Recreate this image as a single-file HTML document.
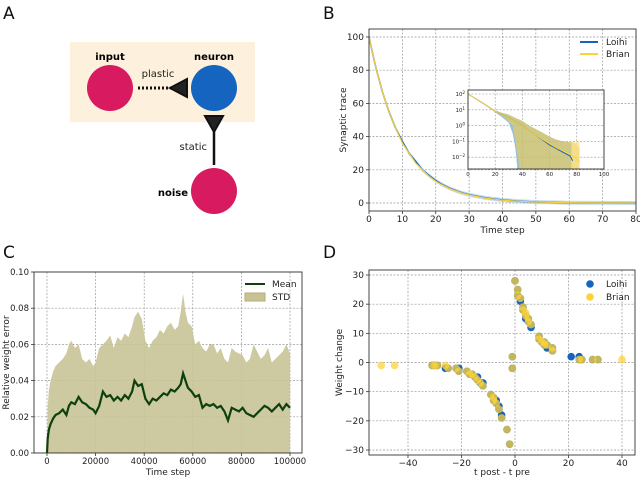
<!DOCTYPE html>
<html><head><meta charset="utf-8"><style>
body{margin:0;background:#fff}
svg{display:block;font-family:"DejaVu Sans","Liberation Sans",sans-serif}
</style></head><body>
<svg id="fig" width="640" height="478" viewBox="0 0 640 478">
<g>
<text x="3" y="19" font-size="17" fill="#111">A</text>
<rect x="70" y="42" width="185" height="80" fill="#fdf0dc"/>
<circle cx="110" cy="88" r="23" fill="#d81b60"/>
<circle cx="214" cy="88" r="23" fill="#1565c0"/>
<circle cx="214" cy="191" r="23" fill="#d81b60"/>
<text x="110" y="60" font-size="10" font-weight="bold" text-anchor="middle">input</text>
<text x="214" y="60" font-size="10" font-weight="bold" text-anchor="middle">neuron</text>
<text x="188" y="196" font-size="10" font-weight="bold" text-anchor="end">noise</text>
<text x="158" y="77" font-size="10" text-anchor="middle" fill="#222">plastic</text>
<text x="207" y="150" font-size="10" text-anchor="end" fill="#222">static</text>
<line x1="138" y1="88" x2="172" y2="88" stroke="#111" stroke-width="3" stroke-dasharray="2,2"/>
<polygon points="170,88 187,79 187,97" fill="#222" stroke="#111" stroke-width="2"/>
<line x1="214" y1="128" x2="214" y2="165" stroke="#111" stroke-width="2.5"/>
<polygon points="205,116 223,116 214,132" fill="#222" stroke="#111" stroke-width="2"/>
</g>
<text x="323" y="19" font-size="17" fill="#111">B</text>
<text x="3" y="258" font-size="17" fill="#111">C</text>
<text x="323" y="258" font-size="17" fill="#111">D</text>
<g id="gB"></g>
<g id="gC"></g>
<g id="gD"></g>
</svg>
<script>
// ---- Panel B data ----
const bTime=[0,2,4,6,8,10,12,14,16,18,20,22,24,26,28,30,35,40,45,50,60,70,80];
const bLoihi=[100,82,67,55,45,37,30,25,20,16.5,13.5,11,9,7.4,6,5,3,1.8,1,0.6,0.2,0.05,0];
const bBrian=[100,82,67,55,45,36,30,24,20,16,13,10.8,8.8,7.2,5.9,4.8,2.9,1.7,1,0.6,0.2,0.06,0];
const bTicksX=[0,10,20,30,40,50,60,70,80];
const bTicksY=[0,20,40,60,80,100];
// inset (log)
const iTime=[0,10,20,25,30,35,40,45,50,55,60,65,70,75,77,80,82];
const iLoihi=[100,30,8,5,3,1.8,1,0.5,0.25,0.12,0.06,0.035,0.02,0.012,0.006,null,null];
const iBrian=[100,30,8,5,3,1.8,1,0.5,0.25,0.13,0.07,0.04,0.025,0.015,0.012,0.008,0.005];
const iUpper=[100,30,9,6.5,5,3,2,1,0.6,0.35,0.2,0.13,0.1,0.09,0.09,0.06,0.04];
const iLowerT=[0,10,20,25,30,33,35,36];
const iLower=[100,30,7,3.5,1.5,0.3,0.03,0.004];
const iTicksX=[0,20,40,60,80,100];
const iTicksY=[2,1,0,-1,-2];
// ---- Panel C data ----
const cTime=[0,300,800,1500,2500,3500,5000,6500,8000,9000,10000,11500,13000,14500,16000,17500,19000,20000,21500,23000,24500,26000,27500,29000,30500,32000,33500,35000,36000,37500,39000,40500,42000,43500,45000,46500,48000,49500,51000,52500,54000,55000,56000,57000,58000,59500,61000,62500,64000,65500,67000,68500,70000,71500,73000,74500,76000,77500,79000,80500,82000,83500,85000,86500,88000,89500,91000,92500,94000,95500,97000,98500,100000];
const cMean=[0,0.008,0.013,0.016,0.019,0.021,0.022,0.024,0.021,0.026,0.028,0.027,0.031,0.028,0.027,0.025,0.024,0.022,0.026,0.034,0.031,0.032,0.029,0.031,0.029,0.032,0.03,0.034,0.04,0.037,0.038,0.03,0.027,0.03,0.029,0.031,0.033,0.032,0.035,0.034,0.036,0.038,0.044,0.04,0.036,0.034,0.031,0.032,0.025,0.027,0.026,0.027,0.025,0.026,0.023,0.018,0.025,0.024,0.023,0.025,0.022,0.021,0.02,0.022,0.024,0.026,0.025,0.023,0.025,0.027,0.024,0.027,0.025];
const cUpper=[0,0.025,0.035,0.04,0.045,0.048,0.05,0.052,0.055,0.06,0.062,0.058,0.06,0.052,0.05,0.052,0.048,0.05,0.058,0.06,0.062,0.065,0.058,0.064,0.062,0.066,0.064,0.07,0.075,0.078,0.074,0.062,0.058,0.062,0.064,0.068,0.066,0.07,0.072,0.068,0.07,0.078,0.088,0.078,0.072,0.07,0.06,0.062,0.058,0.056,0.06,0.06,0.055,0.058,0.052,0.05,0.058,0.056,0.055,0.054,0.05,0.052,0.06,0.056,0.052,0.054,0.058,0.05,0.052,0.054,0.056,0.06,0.055];
const cTicksX=[0,20000,40000,60000,80000,100000];
const cTicksY=[0,0.02,0.04,0.06,0.08,0.1];
// ---- Panel D data ----
const dLoihiX=[0,1,1,2,2,3,3,4,4,5,5,6,6,9,9,10,11,11,12,12,14,14,21,24,24,25,29,31,-1,-1,-2,-3,-5,-5,-6,-6,-7,-7,-8,-8,-9,-12,-12,-13,-14,-14,-15,-16,-17,-18,-21,-21,-22,-25,-26,-29,-30,-31];
const dLoihiY=[28,25,23,22,21,19,18,16,15,14,15,13,12,9,8,7,7,6,5,6,4,5,2,2,1,1,1,1,2,-2,-28,-23,-19,-18,-16,-15,-14,-13,-13,-12,-11,-8,-7,-7,-6,-5,-5,-4,-4,-3,-3,-2,-2,-2,-2,-1,-1,-1];
const dBrianX=[0,1,1,2,3,3,4,4,5,5,6,9,9,10,11,11,12,14,14,24,25,29,31,40,-1,-1,-2,-3,-5,-6,-7,-8,-8,-9,-12,-13,-14,-15,-16,-17,-18,-21,-22,-25,-26,-29,-30,-31,-45,-50];
const dBrianY=[28,25,23,22,19,18,17,16,15,14,13,9,8,7,7,6,6,4,5,1,1,1,1,1,2,-2,-28,-23,-19,-16,-14,-13,-12,-11,-8,-7,-6,-5,-4,-4,-3,-3,-2,-2,-1,-1,-1,-1,-1,-1];
const dTicksX=[-40,-20,0,20,40];
const dTicksY=[-30,-20,-10,0,10,20,30];

const NS="http://www.w3.org/2000/svg";
function mk(parent,tag,attrs,text){const e=document.createElementNS(NS,tag);for(const k in attrs)e.setAttribute(k,attrs[k]);if(text!==undefined)e.textContent=text;parent.appendChild(e);return e;}
function lin(d0,d1,r0,r1){return v=>r0+(v-d0)*(r1-r0)/(d1-d0);}
function grid(g,L,R,T,B,xs,ys,sx,sy,fmtX,fmtY,fs){
  mk(g,'rect',{x:L,y:T,width:R-L,height:B-T,fill:'#fff'});
  xs.forEach(v=>{const x=sx(v);
    const l=mk(g,'line',{x1:x,x2:x,y1:T,y2:B,stroke:'#999','stroke-width':0.7,'stroke-dasharray':'2,1.5'});
    
    mk(g,'line',{x1:x,x2:x,y1:B,y2:B+3,stroke:'#333','stroke-width':0.8});
    const t=mk(g,'text',{x:x,y:B+11,'font-size':fs,'text-anchor':'middle',fill:'#222'},fmtX(v));
    });
  ys.forEach(v=>{const y=sy(v);
    const l=mk(g,'line',{x1:L,x2:R,y1:y,y2:y,stroke:'#999','stroke-width':0.7,'stroke-dasharray':'2,1.5'});
    
    mk(g,'line',{x1:L-3,x2:L,y1:y,y2:y,stroke:'#333','stroke-width':0.8});
    const t=mk(g,'text',{x:L-5,y:y+3,'font-size':fs,'text-anchor':'end',fill:'#222'},fmtY(v));
    });
}
function frame(g,L,R,T,B){const f=mk(g,'rect',{x:L,y:T,width:R-L,height:B-T,fill:'none',stroke:'#333','stroke-width':0.9});
  }
function pathXY(xs,ys,sx,sy){let d='';let started=false;xs.forEach((x,i)=>{if(ys[i]===null)return;d+=(started?'L':'M')+sx(x).toFixed(1)+','+sy(ys[i]).toFixed(1);started=true;});return d;}
function lab(g,x,y,txt,name,rot){const t=mk(g,'text',{x:x,y:y,'font-size':9,'text-anchor':'middle',fill:'#222'},txt);
  if(rot)t.setAttribute('transform','rotate(-90 '+x+' '+y+')');
  }

// ---- Panel B ----
(function(){
 const g=document.getElementById('gB');const L=369,R=636,T=29,B=211;
 const sx=lin(0,80,L,R),sy=lin(0,100,203,37);
 grid(g,L,R,T,B,bTicksX,bTicksY,sx,sy,v=>v,v=>v,9);
 const fl=mk(g,'path',{d:pathXY(bTime,bLoihi.map(v=>v+1.2),sx,sy)+'L'+sx(80)+','+sy(-0.5)+pathXY(bTime.slice().reverse(),bLoihi.slice().reverse().map(v=>v-1.2),sx,sy).replace('M','L')+'Z',fill:'#9ec7e8',opacity:0.6});
 
 const l1=mk(g,'path',{d:pathXY(bTime,bLoihi,sx,sy),fill:'none',stroke:'#1565c0','stroke-width':1.5});
 
 const l2=mk(g,'path',{d:pathXY(bTime,bBrian,sx,sy),fill:'none',stroke:'#fdd13a','stroke-width':1.2});
 
 frame(g,L,R,T,B);
 lab(g,(L+R)/2,233,'Time step','x-axis-title');
 lab(g,346,(T+B)/2,'Synaptic trace','y-axis-title',true);
 const lg=mk(g,'g',{});
 mk(lg,'line',{x1:580,x2:598,y1:42,y2:42,stroke:'#1565c0','stroke-width':2});
 mk(lg,'text',{x:606,y:45,'font-size':9,fill:'#222'},'Loihi');
 mk(lg,'line',{x1:580,x2:598,y1:54,y2:54,stroke:'#fdd13a','stroke-width':2});
 mk(lg,'text',{x:606,y:57,'font-size':9,fill:'#222'},'Brian');
 // inset
 const iL=468,iR=604,iT=90,iB=169;
 const ig=mk(g,'g',{});
 const isx=lin(0,100,iL,iR),isy=v=>94+(2-Math.log10(v))*15.8;
 mk(ig,'rect',{x:iL,y:iT,width:iR-iL,height:iB-iT,fill:'#fff'});
 iTicksX.forEach(v=>{const x=isx(v);mk(ig,'line',{x1:x,x2:x,y1:iT,y2:iB,stroke:'#999','stroke-width':0.6,'stroke-dasharray':'2,1.5'});
   const t=mk(ig,'text',{x:x,y:iB+7,'font-size':5.5,'text-anchor':'middle',fill:'#222'},v);});
 iTicksY.forEach(e=>{const y=isy(Math.pow(10,e));mk(ig,'line',{x1:iL,x2:iR,y1:y,y2:y,stroke:'#999','stroke-width':0.6,'stroke-dasharray':'2,1.5'});
   const t=mk(ig,'text',{x:iL-3,y:y+2,'font-size':5.5,'text-anchor':'end',fill:'#222'});
   t.textContent='10';mk(t,'tspan',{dy:-2,'font-size':4},String(e).replace('-','−'));});
 const clampY=v=>Math.min(iB,isy(v));
 let d='M'+isx(iTime[0])+','+clampY(iUpper[0]);iTime.forEach((t,i)=>{d+='L'+isx(t)+','+clampY(iUpper[i]);});d+='L'+isx(82)+','+iB+'L'+isx(36)+','+iB;
 for(let i=iLowerT.length-1;i>=0;i--){d+='L'+isx(iLowerT[i])+','+clampY(iLower[i]);}d+='Z';
 const bb=mk(ig,'path',{d:d,fill:'#c8c070',opacity:0.85});
 const hi=mk(ig,'path',{d:'M'+isx(76)+','+clampY(0.09)+'L'+isx(82)+','+clampY(0.09)+'L'+isx(82)+','+iB+'L'+isx(76)+','+iB+'Z',fill:'#fde38a',opacity:0.8});
 
 let d2='M'+isx(iLowerT[0])+','+clampY(iLower[0]);iLowerT.forEach((t,i)=>{d2+='L'+isx(t)+','+clampY(iLower[i]);});d2+='L'+isx(37)+','+iB+'L'+isx(38)+','+iB+'L'+isx(33)+','+isy(1)+'L'+isx(25)+','+isy(4.5)+'Z';
 const lb=mk(ig,'path',{d:d2,fill:'#8fc0e8',opacity:0.9});
 const il1=mk(ig,'path',{d:pathXY(iTime,iLoihi,isx,isy),fill:'none',stroke:'#1565c0','stroke-width':1});
 const il2=mk(ig,'path',{d:pathXY(iTime,iBrian,isx,isy),fill:'none',stroke:'#fdd13a','stroke-width':0.9});
 frame(ig,iL,iR,iT,iB);
})();

// ---- Panel C ----
(function(){
 const g=document.getElementById('gC');const L=34,R=302,T=272,B=453;
 const sx=lin(0,100000,47,290),sy=lin(0,0.1,453,272);
 grid(g,L,R,T,B,cTicksX,cTicksY,sx,sy,v=>v,v=>v.toFixed(2),8.5);
 const band=mk(g,'path',{d:pathXY(cTime,cUpper,sx,sy)+'L'+sx(100000)+','+sy(0)+'L'+sx(0)+','+sy(0)+'Z',fill:'#c8c396',opacity:0.9});
 
 const ml=mk(g,'path',{d:pathXY(cTime,cMean,sx,sy),fill:'none',stroke:'#0d400d','stroke-width':2.2});
 
 frame(g,L,R,T,B);
 lab(g,(L+R)/2,475,'Time step','x-axis-title');
 lab(g,9,(T+B)/2,'Relative weight error','y-axis-title',true);
 const lg=mk(g,'g',{});
 mk(lg,'line',{x1:245,x2:265,y1:284,y2:284,stroke:'#0d400d','stroke-width':2});
 mk(lg,'text',{x:272,y:287,'font-size':9,fill:'#222'},'Mean');
 mk(lg,'rect',{x:245,y:293,width:20,height:8,fill:'#c8c396',stroke:'#b5ae78'});
 mk(lg,'text',{x:272,y:300,'font-size':9,fill:'#222'},'STD');
})();

// ---- Panel D ----
(function(){
 const g=document.getElementById('gD');const L=369,R=635,T=270,B=455;
 const sx=lin(-40,40,408,622),sy=lin(-30,30,450,275);
 grid(g,L,R,T,B,dTicksX,dTicksY,sx,sy,v=>String(v).replace('-','−'),v=>String(v).replace('-','−'),9);
 dLoihiX.forEach((x,i)=>{const c=mk(g,'circle',{cx:sx(x),cy:sy(dLoihiY[i]),r:3.8,fill:'#1565c0'});
   });
 dBrianX.forEach((x,i)=>{const c=mk(g,'circle',{cx:sx(x),cy:sy(dBrianY[i]),r:3.8,fill:'#fdd13a','fill-opacity':0.75});
   });
 frame(g,L,R,T,B);
 lab(g,(L+R)/2,475,'t post - t pre','x-axis-title');
 lab(g,342,(T+B)/2,'Weight change','y-axis-title',true);
 const lg=mk(g,'g',{});
 mk(lg,'circle',{cx:590,cy:284,r:3.8,fill:'#1565c0'});
 mk(lg,'text',{x:606,y:287,'font-size':9,fill:'#222'},'Loihi');
 mk(lg,'circle',{cx:590,cy:297,r:3.8,fill:'#fdd13a'});
 mk(lg,'text',{x:606,y:300,'font-size':9,fill:'#222'},'Brian');
})();
</script>
</body></html>
